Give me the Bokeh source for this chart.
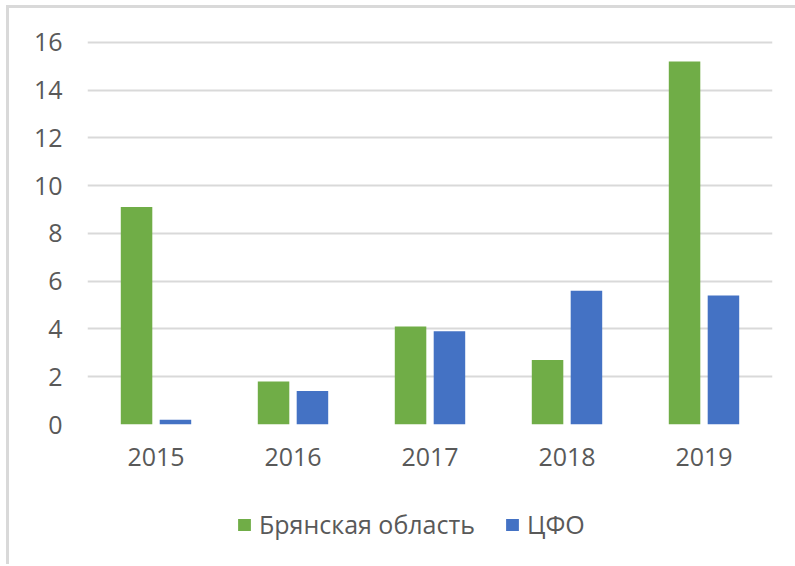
from bokeh.plotting import figure
from bokeh.layouts import column
from bokeh.models import Range1d, FactorRange, Legend, LegendItem, FixedTicker, ColumnDataSource
from bokeh.transform import dodge
from bokeh.embed import file_html
from bokeh.resources import INLINE

years = ["2015", "2016", "2017", "2018", "2019"]
bryansk = [9.1, 1.8, 4.1, 2.7, 15.2]
cfo = [0.2, 1.4, 3.9, 5.6, 5.4]
series_names = ["Брянская область", "ЦФО"]
y_ticks = [0, 2, 4, 6, 8, 10, 12, 14, 16]

GREEN = "#70AD47"
BLUE = "#4472C4"
FONT = "Open Sans"
TXT = "#595959"

src = ColumnDataSource(dict(years=years, bryansk=bryansk, cfo=cfo))

p = figure(x_range=FactorRange(*years), y_range=Range1d(0, 16.2),
           width=786, height=476, output_backend="svg", toolbar_location=None,
           min_border_left=78, min_border_right=23, min_border_top=29, min_border_bottom=60)
p.outline_line_color = None
p.background_fill_color = "white"

r1 = p.vbar(x=dodge("years", -0.142, range=p.x_range), top="bryansk", width=0.23,
            source=src, fill_color=GREEN, line_color=None)
r2 = p.vbar(x=dodge("years", 0.142, range=p.x_range), top="cfo", width=0.23,
            source=src, fill_color=BLUE, line_color=None)

p.xgrid.grid_line_color = None
p.ygrid.grid_line_color = "#D9D9D9"
p.ygrid.grid_line_width = 2
p.yaxis.ticker = FixedTicker(ticks=y_ticks)

for ax in (p.xaxis[0], p.yaxis[0]):
    ax.axis_line_color = None
    ax.major_tick_line_color = None
    ax.minor_tick_line_color = None
    ax.major_tick_out = 0
    ax.major_tick_in = 0
    ax.major_label_text_font = FONT
    ax.major_label_text_font_size = "25px"
    ax.major_label_text_color = TXT
p.xaxis.major_label_standoff = 23
p.yaxis.major_label_standoff = 25

# legend panel below the chart (same series, drawn out of view; only the legend shows)
lg = figure(x_range=FactorRange(*years), y_range=Range1d(1000, 1001), width=786, height=80,
            output_backend="svg", toolbar_location=None,
            x_axis_location=None, y_axis_location=None,
            min_border_left=0, min_border_right=0, min_border_top=2, min_border_bottom=0)
lg.grid.visible = False
lg.outline_line_color = None
l1 = lg.vbar(x="years", top="bryansk", width=0.2, source=src, fill_color=GREEN, line_color=None)
l2 = lg.vbar(x="years", top="cfo", width=0.2, source=src, fill_color=BLUE, line_color=None)

legend = Legend(items=[LegendItem(label=series_names[0], renderers=[l1]),
                       LegendItem(label=series_names[1], renderers=[l2])],
                orientation="horizontal", location=(149, 23))
legend.label_text_font = FONT
legend.label_text_font_size = "25px"
legend.label_text_color = TXT
legend.glyph_width = 16
legend.glyph_height = 15
legend.spacing = 29
legend.label_standoff = 7
legend.border_line_color = None
legend.background_fill_alpha = 0
legend.margin = 0
legend.padding = 0
lg.add_layout(legend)

layout = column(p, lg, spacing=0,
                styles={"border-left": "3px solid #D9D9D9", "border-top": "3px solid #D9D9D9",
                        "margin-left": "6px", "margin-top": "5px"})

open("out.html", "w").write(file_html(layout, INLINE))
